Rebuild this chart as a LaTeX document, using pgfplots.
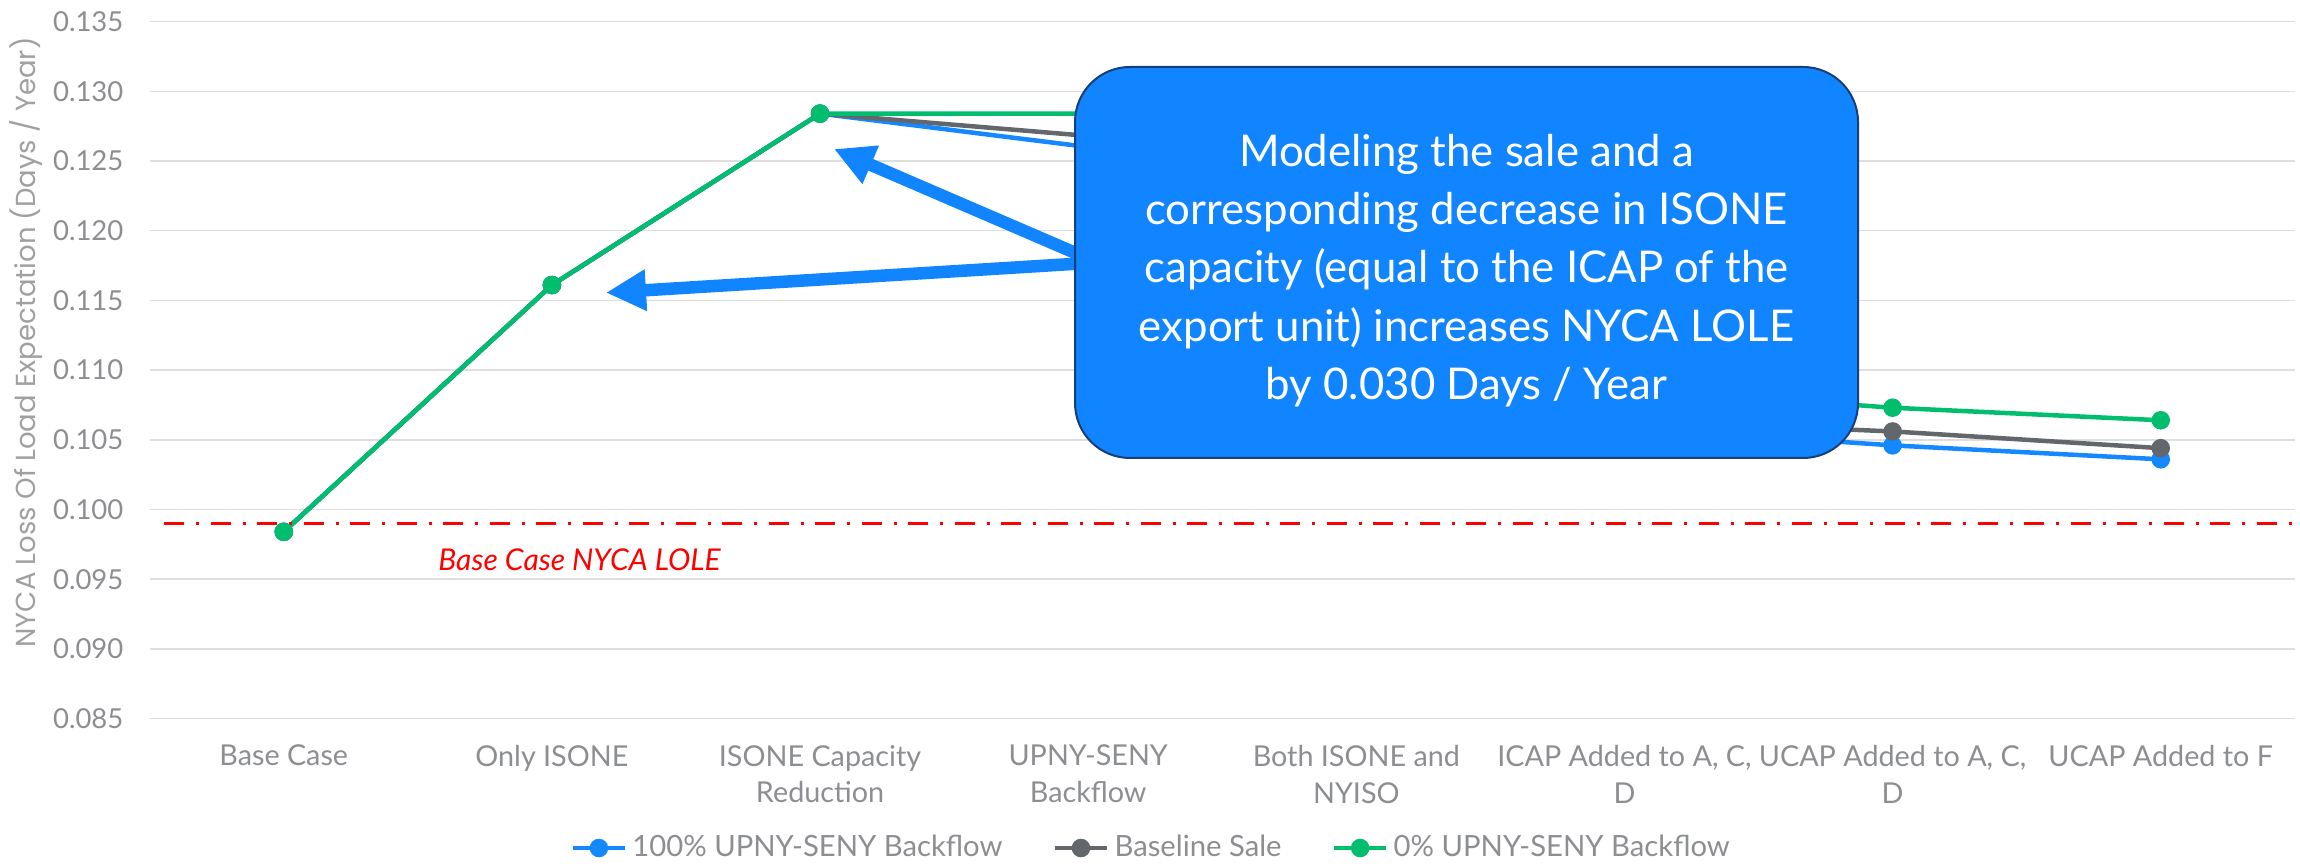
\documentclass[border=0pt]{standalone}
\usepackage{pgfplots}
\pgfplotsset{compat=1.18}
\usepackage{pgfplotstable}
\usepackage{fontspec}
\setmainfont{Lato}
\newfontfamily\ylabfont{Poppins}
\usetikzlibrary{arrows.meta}
\definecolor{sblue}{RGB}{20,136,255}
\definecolor{sgray}{RGB}{99,102,106}
\definecolor{sgreen}{RGB}{0,190,110}
\definecolor{boxblue}{RGB}{17,133,255}
\definecolor{boxedge}{RGB}{22,62,120}
\definecolor{txtgray}{RGB}{140,142,145}
\definecolor{ylgray}{RGB}{160,160,160}
\definecolor{gridgray}{RGB}{222,222,222}

\pgfplotstableread{
x blue gray green
0 0.0984 0.0984 0.0984
1 0.1161 0.1161 0.1161
2 0.1284 0.1284 0.1284
3 0.1260 0.1268 0.1284
4 0.1180 0.1190 0.1200
5 0.1059 0.1064 0.1087
6 0.1046 0.1056 0.1073
7 0.1036 0.1044 0.1064
}\data

\begin{document}
\begin{tikzpicture}
\begin{axis}[
  scale only axis, width=858.04pt, height=278.8pt,
  at={(59.88pt,59.76pt)}, anchor=south west,
  xmin=-0.5, xmax=7.5, ymin=0.085, ymax=0.135,
  ytick={0.085,0.09,0.095,0.1,0.105,0.11,0.115,0.12,0.125,0.13,0.135},
  xtick={0,1,2,3,4,5,6,7},
  xticklabels={Base Case, Only ISONE, {ISONE Capacity\\Reduction}, {UPNY-SENY\\Backflow}, {Both ISONE and\\NYISO}, {ICAP Added to A, C,\\D}, {UCAP Added to A, C,\\D}, UCAP Added to F},
  xticklabel style={align=center, font=\fontsize{11.5}{14.7}\selectfont, text=txtgray, anchor=north, inner sep=0pt, yshift=-10.4pt},
  yticklabel style={font=\fontsize{11}{13}\selectfont, text=txtgray, xshift=-7pt, /pgf/number format/.cd, fixed, fixed zerofill, precision=3, assume math mode=true},
  ymajorgrids, grid style={gridgray, line width=0.6pt},
  axis line style={draw=none}, major tick style={draw=none},
  ylabel={NYCA Loss Of Load Expectation (Days / Year)},
  ylabel style={at={(axis description cs:-0.0577,0.5396)}, anchor=center, font=\ylabfont\fontsize{11}{13}\selectfont, text=ylgray},
  legend style={at={(0.4675,-0.1857)}, anchor=center, legend columns=3, draw=none, fill=none, font=\fontsize{11.7}{14}\selectfont, text=txtgray, /tikz/every even column/.append style={column sep=18pt}},
  legend image code/.code={\draw[mark repeat=2,mark phase=2] plot coordinates {(0cm,0cm) (0.37cm,0cm) (0.74cm,0cm)};},
  every axis plot/.append style={line width=1.8pt, mark=*, mark size=2.8pt, mark options={solid}},
  clip=false,
]
\addplot[sblue] table[x=x, y=blue] {\data};
\addlegendentry{100\% UPNY-SENY Backflow}
\addplot[sgray] table[x=x, y=gray] {\data};
\addlegendentry{Baseline Sale}
\addplot[sgreen] table[x=x, y=green] {\data};
\addlegendentry{0\% UPNY-SENY Backflow}
\addplot[red, line width=1.4pt, mark=none, dash pattern=on 8pt off 4.7pt on 1.2pt off 4.7pt, forget plot] coordinates {(-0.445,0.099) (7.5,0.099)};
\node[text=red, font=\itshape\fontsize{12}{14}\selectfont] at (axis cs:1.103,0.09638) {Base Case NYCA LOLE};
\end{axis}
\draw[boxblue, line width=5pt, -{Triangle[length=16pt,width=15.6pt]}] (440pt,241.76pt) -- (333.6pt,287.6pt);
\draw[boxblue, line width=5pt, -{Triangle[length=16pt,width=15.6pt]}] (440pt,242.28pt) -- (242.4pt,230.12pt);
\draw[boxedge, fill=boxblue, line width=0.8pt, rounded corners=22pt] (430pt,164pt) rectangle (743.2pt,320.4pt);
\node[text=white, align=center, font=\fontsize{17.5}{23.3}\selectfont] at (586.6pt,239pt) {Modeling the sale and a\\corresponding decrease in ISONE\\capacity (equal to the ICAP of the\\export unit) increases NYCA LOLE\\by 0.030 Days / Year};
\pgfresetboundingbox
\useasboundingbox (0,0) rectangle (920pt,347.2pt);
\end{tikzpicture}
\end{document}
